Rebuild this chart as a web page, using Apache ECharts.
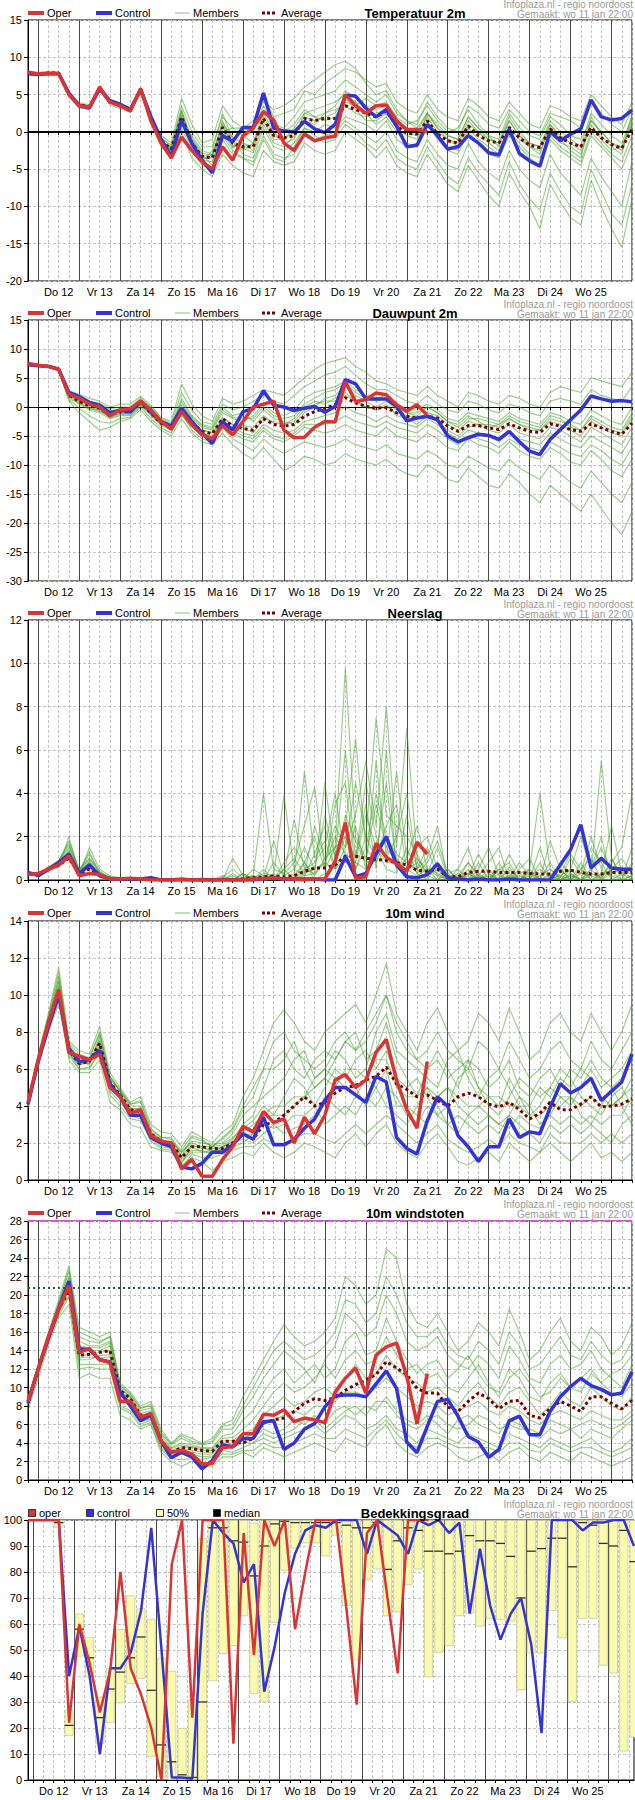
<!DOCTYPE html>
<html><head><meta charset="utf-8">
<script src="https://cdn.jsdelivr.net/npm/echarts@6/dist/echarts.min.js"></script>
<style>html,body{margin:0;padding:0;background:#fff}#c{width:635px;height:1800px}</style>
</head><body><div id="c"></div>
<script>
// ---------------- DATA ----------------
const dayLabels = ["Do 12","Vr 13","Za 14","Zo 15","Ma 16","Di 17","Wo 18","Do 19","Vr 20","Za 21","Zo 22","Ma 23","Di 24","Wo 25"];
const titles = ["Temperatuur 2m","Dauwpunt 2m","Neerslag","10m wind","10m windstoten","Bedekkingsgraad"];
const legendNames = ["Oper","Control","Members","Average"];
const cloudLegendNames = ["oper","control","50%","median"];
const headerLine1 = "Infoplaza.nl - regio noordoost";
const headerLine2 = "Gemaakt: wo 11 jan 22:00";
const gustLines = [28, 20.8];

// Temperatuur 2m
const t2mOper = [8.0,7.8,7.8,7.8,5.0,3.5,3.3,6.0,4.0,3.5,2.8,5.8,1.5,-1.5,-3.5,-0.7,-2.5,-4.0,-5.0,-2.0,-3.8,-0.5,0.5,2.7,1.6,-1.5,-2.5,-0.3,-1.2,-0.8,-0.6,5.0,3.5,2.5,3.5,3.6,1.5,0.3,0.3,0.0];
const t2mControl = [7.8,7.7,7.8,7.8,5.2,3.5,3.2,5.8,4.2,3.7,3.0,5.7,2.0,-1.0,-3.3,1.5,-1.5,-3.8,-5.5,-0.5,-1.3,0.6,0.6,5.2,0.5,0.1,0.0,1.4,0.4,-0.1,1.0,4.9,4.8,3.2,2.0,3.0,0.8,-2.0,-1.8,1.0,-0.5,-2.3,-2.0,-0.5,-1.5,-2.8,-3.1,0.4,-2.9,-3.9,-4.6,0.0,-1.2,-0.3,0.4,4.3,2.0,1.6,1.8,2.9];
const t2mAverage = [7.9,7.8,7.9,7.9,5.0,3.6,3.4,5.8,4.0,3.5,3.0,5.6,2.0,-1.2,-2.3,2.0,-1.5,-3.3,-3.5,0.6,-1.5,-2.0,-2.0,1.8,-0.5,-0.8,-0.5,1.8,1.5,1.8,1.8,3.5,3.0,2.5,2.0,2.8,0.8,-0.2,-0.3,1.5,-0.3,-1.2,-1.5,0.8,-0.5,-1.2,-1.5,0.6,-0.8,-1.8,-2.1,0.4,-0.8,-1.5,-2.0,0.6,-0.8,-1.7,-2.2,0.3];
const t2mMembers = [
[8.0,7.9,8.1,8.0,5.3,3.8,3.5,6.0,4.3,3.8,3.2,6.0,2.5, -0.5,-1.5,4.5,1.0,-1.5,-1.0,3.5,1.5,0.5,0.0,5.0,2.0, 2.5,3.0,5.5,5.0,6.5,7.5,8.5,8.0,7.0,6.0,6.5,4.0, 3.0,2.5,5.0,3.0,2.0,1.5,4.5,3.5,2.0,1.5,4.0,2.5, 1.0,0.5,3.5,3.0,2.0,1.5,5.0,3.5,2.0,1.0,4.0],
[7.8,7.7,7.7,7.7,4.7,3.2,3.0,5.5,3.6,3.1,2.6,5.2,1.5, -2.0,-3.5,0.0,-3.5,-5.0,-6.0,-3.0,-4.5,-5.5,-6.0,-2.5,-4.0, -4.5,-4.0,-1.5,-2.5,-3.0,-2.5,0.0,-1.0,-2.0,-3.5,-2.0,-4.5, -5.5,-6.0,-3.0,-5.0,-7.0,-8.0,-4.5,-6.5,-8.5,-10.0,-5.5,-8.0, -10.0,-13.0,-7.0,-9.5,-11.5,-12.5,-6.5,-10.0,-13.0,-15.5,-9.0],
[7.9,7.8,7.8,7.9,5.1,3.7,3.3,5.9,4.1,3.4,2.9,5.5,2.2, -1.0,-2.8,2.5,-1.0,-3.0,-4.5,1.0,-2.0,-1.5,-2.5,2.5,0.0, -1.5,-1.0,2.5,3.0,3.5,4.0,5.0,4.0,2.5,1.0,2.0,0.0, -1.5,-2.0,1.0,-1.0,-2.5,-3.0,0.0,-1.5,-3.0,-3.5,-0.5,-2.0, -3.5,-4.5,-1.0,-2.5,-3.5,-4.5,-0.5,-2.0,-3.5,-5.0,-1.5],
[8.0,7.8,8.0,7.9,4.9,3.5,3.5,5.7,3.9,3.6,3.1,5.7,1.8, -1.8,-2.0,3.0,-2.0,-4.0,-2.5,2.5,-1.0,-3.0,-3.5,0.5,-2.0, -2.5,-1.5,0.5,0.0,1.0,0.5,2.0,1.5,1.0,0.0,1.5,-1.0, -2.0,-1.5,2.5,0.5,-0.5,-1.0,2.0,0.5,-0.5,-1.0,2.5,0.5, -0.5,-1.0,2.0,1.0,-0.5,-1.0,1.5,0.0,-1.5,-2.0,1.0],
[7.8,7.9,7.9,8.0,5.0,3.6,3.2,6.1,4.0,3.3,2.8,5.4,2.4, -0.8,-1.8,1.0,-0.5,-2.5,-3.0,0.0,0.5,-0.5,-1.5,3.0,0.5, 0.0,1.0,3.0,2.0,1.5,2.0,4.0,3.5,4.5,3.5,4.0,2.0, 1.0,1.5,3.5,1.5,0.0,0.5,3.0,1.0,-0.5,-2.0,1.5,-0.5, -2.0,-3.0,1.0,-1.0,-2.5,-3.5,2.0,-0.5,-2.0,-3.0,2.5],
[7.9,7.8,7.9,7.8,5.2,3.9,3.6,5.8,4.2,3.5,3.0,5.9,1.6, -1.5,-3.0,0.5,-2.5,-4.5,-5.0,-1.0,-3.0,-3.5,-4.0,-0.5,-3.0, -3.5,-3.0,0.0,-1.0,-0.5,0.0,1.5,0.5,-0.5,-1.5,0.0,-2.5, -3.5,-4.0,-1.0,-3.0,-4.5,-5.0,-1.5,-4.0,-5.5,-6.5,-2.5,-5.0, -6.5,-7.5,-3.0,-5.5,-7.0,-8.5,-3.5,-6.0,-8.0,-10.0,-4.0],
[7.9,7.9,8.0,7.9,4.8,3.4,3.4,5.6,3.8,3.7,3.2,5.3,2.1, -1.2,-2.5,2.0,-1.5,-3.5,-3.5,1.5,-1.5,-2.5,-1.5,1.5,-1.0, -1.0,0.0,1.5,1.0,2.5,3.0,3.5,2.5,2.0,2.5,3.0,1.0, 0.0,-0.5,2.0,0.0,-1.0,-2.0,1.0,0.0,-1.5,-2.5,0.5,-1.0, -2.0,-2.5,0.5,-1.5,-2.0,-3.0,1.0,-1.0,-2.5,-2.0,1.5],
[7.9,7.8,7.9,7.9,5.1,3.7,3.4,5.9,4.1,3.6,3.1,5.8,2.3, -0.8,-2.0,3.5,0.0,-2.0,-2.0,2.0,0.5,0.5,1.5,4.0,3.0, 3.5,4.5,6.0,7.0,8.0,9.0,9.5,8.5,6.5,5.0,5.5,3.0, 1.5,1.0,4.0,2.0,0.5,0.0,3.5,2.5,1.0,0.5,3.0,1.5, 0.0,-0.5,2.5,2.0,1.5,0.5,4.0,2.5,1.0,0.0,3.0],
[7.8,7.8,7.8,7.8,4.9,3.5,3.3,5.7,3.9,3.4,2.9,5.5,1.7, -1.6,-3.0,1.2,-2.2,-4.2,-4.8,-0.5,-2.5,-3.5,-4.5,-1.0,-3.5, -4.0,-2.0,0.5,-0.5,-1.5,-1.0,1.0,0.0,-1.5,-2.5,-1.0,-3.5, -4.5,-5.0,-2.0,-4.0,-6.0,-7.0,-3.5,-5.5,-7.0,-8.5,-4.0,-7.0, -9.0,-10.5,-5.5,-8.0,-10.0,-11.0,-5.0,-8.0,-11.0,-12.5,-7.0],
[8.0,7.9,7.9,7.8,5.0,3.6,3.5,5.8,4.0,3.5,3.0,5.6,2.0, -1.3,-2.2,2.2,-1.2,-3.2,-3.0,0.8,-1.8,-2.2,-2.8,1.0,-1.5, -2.0,-0.5,2.0,1.5,2.0,2.5,4.5,3.0,1.5,1.5,2.5,0.5, -0.5,-1.0,1.5,-0.5,-2.0,-2.5,0.5,-1.0,-2.0,-3.0,0.0,-1.5, -3.0,-3.5,-0.5,-2.0,-3.0,-4.0,0.0,-1.5,-3.0,-4.0,-0.5],
[7.9,7.8,7.8,7.9,5.0,3.5,3.3,5.9,4.0,3.5,2.9,5.7,1.9, -1.0,-2.6,1.8,-1.8,-3.8,-4.0,0.2,-2.2,-1.0,0.5,3.5,1.0, 0.5,2.0,4.0,4.5,5.0,5.5,7.0,6.0,5.0,4.0,5.0,2.5, 1.5,0.5,2.5,0.5,-1.0,-1.5,1.5,0.0,-1.0,-1.5,2.0,0.0, -1.5,-2.0,1.5,0.0,-1.0,-2.0,2.5,1.0,-0.5,-1.5,2.0],
[7.9,7.8,7.9,8.0,5.1,3.6,3.4,5.8,4.1,3.5,3.0,5.6,2.1, -1.1,-2.4,2.8,-0.8,-2.8,-3.2,1.2,-0.8,-1.5,-2.0,2.0,-0.5, -1.0,0.5,2.5,2.0,2.5,3.5,5.5,4.5,3.5,3.0,3.5,1.5, 0.5,0.0,2.5,1.0,-0.5,-1.0,2.0,0.5,-1.0,-1.5,1.5,-0.5, -1.5,-2.0,1.0,-0.5,-1.5,-2.5,1.5,0.0,-1.5,-2.5,1.0]
];

// Dauwpunt 2m
const tdOper = [7.5,7.2,7.0,6.5,2.2,1.5,0.5,0.0,-1.5,-0.5,-0.3,1.0,-0.5,-2.5,-3.8,-0.8,-3.0,-4.8,-5.5,-3.2,-4.8,-2.5,0.0,0.5,1.0,-4.0,-5.3,-5.2,-3.5,-2.5,-2.6,4.4,0.9,1.3,2.4,2.1,0.4,-0.7,0.4,-1.4];
const tdControl = [7.3,7.1,7.0,6.5,2.5,1.8,0.8,0.3,-1.0,-0.6,-0.8,1.0,-0.8,-2.5,-3.3,-0.2,-2.5,-4.5,-6.3,-2.5,-4.0,-0.8,-0.3,2.8,0.3,0.0,-0.6,-0.2,0.1,-0.9,0.1,4.7,4.0,1.4,1.4,1.4,0.1,-2.4,-1.9,-1.6,-2.2,-5.0,-6.0,-5.3,-4.7,-4.9,-5.6,-4.2,-6.0,-7.6,-8.2,-5.6,-3.9,-2.2,-0.5,1.9,1.4,1.0,1.1,0.9];
const tdAverage = [7.4,7.2,7.0,6.5,2.0,1.0,0.2,-0.2,-1.3,-0.8,-0.8,0.8,-1.0,-2.8,-3.3,-0.5,-2.7,-4.2,-4.6,-2.0,-3.3,-3.7,-4.0,-2.0,-3.0,-3.3,-3.0,-1.6,-0.8,-0.2,0.4,1.6,0.7,0.1,-0.2,-0.1,-1.0,-1.6,-1.9,-1.6,-1.9,-3.3,-4.2,-3.2,-3.2,-3.6,-3.9,-2.9,-3.6,-4.2,-4.4,-2.9,-3.3,-3.9,-4.2,-2.9,-3.6,-4.2,-4.7,-2.8];
const tdMembers = [
[7.5,7.3,7.2,6.7,2.8,2.2,1.5,1.0,0.0,0.5,0.5,1.8,0.3, -1.8,-2.5,4.0,0.5,-1.5,-2.5,1.5,0.5,1.0,2.0,3.0,2.5, 2.0,3.5,5.0,6.5,7.5,8.0,8.5,7.0,6.0,4.5,4.0,3.0, 2.5,2.0,3.5,2.0,1.0,0.0,2.5,2.0,1.0,0.5,2.0,1.5, 0.5,0.0,2.5,3.5,3.0,2.5,5.0,4.5,4.0,3.5,6.0],
[7.3,7.1,6.8,6.3,1.0,-1.0,-2.5,-4.0,-3.5,-2.5,-2.0,-0.5,-2.5, -4.0,-5.0,-2.0,-4.5,-6.0,-6.5,-4.5,-6.5,-8.0,-9.0,-7.0,-9.0, -11.0,-10.0,-8.5,-9.0,-10.0,-9.5,-8.0,-9.0,-9.5,-10.0,-9.0,-10.5, -11.5,-12.0,-10.0,-11.0,-12.5,-13.0,-10.5,-12.0,-13.5,-14.0,-11.5,-13.0, -15.0,-16.5,-13.5,-15.0,-16.5,-18.0,-15.0,-17.5,-20.0,-22.0,-18.0],
[7.4,7.2,7.0,6.5,2.3,1.5,0.5,0.3,-1.0,-0.3,-0.5,1.2,-0.5, -2.3,-3.0,0.5,-2.0,-3.5,-4.0,-1.0,-2.0,-2.5,-1.5,0.5,-1.0, -1.5,-0.5,1.5,2.5,3.0,3.5,4.5,3.0,2.0,1.5,2.0,0.5, -0.5,-0.5,0.5,-0.5,-2.0,-2.5,-1.0,-1.5,-2.0,-2.5,-1.0,-2.0, -2.5,-3.0,-1.0,-1.5,-2.5,-3.0,-0.5,-1.5,-2.5,-3.0,0.0],
[7.4,7.2,7.1,6.6,1.5,0.5,-0.5,-1.0,-2.0,-1.5,-1.5,0.3,-1.5, -3.2,-4.0,-1.5,-3.5,-5.0,-5.5,-3.0,-4.5,-5.5,-6.0,-4.0,-5.5, -6.0,-5.0,-3.5,-4.0,-4.5,-4.0,-3.0,-4.0,-4.5,-5.0,-3.5,-5.0, -5.5,-6.0,-4.5,-5.5,-7.0,-7.5,-5.5,-6.5,-7.0,-8.0,-6.0,-7.5, -8.5,-9.0,-7.0,-8.0,-9.5,-10.0,-7.5,-9.0,-11.0,-12.0,-9.0],
[7.5,7.2,7.0,6.4,2.5,1.2,0.0,-0.5,-1.8,-1.0,-1.2,0.5,-1.2, -3.0,-3.5,0.0,-2.5,-4.5,-5.0,-2.0,-3.0,-3.5,-4.5,-2.0,-2.5, -3.0,-2.0,0.0,1.0,0.5,1.5,2.5,1.0,0.0,-0.5,0.5,-1.5, -2.0,-3.0,-1.5,-2.5,-4.0,-5.0,-3.5,-3.0,-4.0,-4.5,-3.0,-4.5, -5.0,-5.5,-3.5,-4.0,-5.0,-6.0,-3.5,-4.5,-5.5,-6.5,-3.5],
[7.3,7.2,7.0,6.6,2.0,1.0,0.8,0.5,-0.5,-0.8,-0.5,1.0,-0.8, -2.6,-3.5,1.5,-1.5,-3.0,-3.5,0.0,-1.5,-1.0,-2.5,-0.5,-2.0, -2.5,-3.0,-1.0,0.0,1.5,2.0,3.5,2.0,1.0,0.0,1.0,-0.5, -1.0,-1.5,0.0,-1.0,-2.5,-3.0,-1.5,-2.5,-3.5,-3.0,-2.0,-3.0, -3.5,-4.0,-2.0,-2.5,-3.0,-4.0,-2.0,-3.0,-4.0,-4.5,-1.5],
[7.4,7.3,7.1,6.5,2.2,0.8,-0.2,-0.8,-1.5,-1.2,-1.0,0.6,-1.0, -2.8,-3.3,-0.5,-3.0,-4.0,-4.5,-2.5,-3.5,-4.5,-5.0,-3.0,-4.0, -4.5,-4.0,-2.5,-2.0,-1.5,-1.0,0.0,-1.0,-1.5,-2.5,-1.5,-2.5, -3.0,-3.5,-2.0,-3.0,-4.5,-5.5,-4.0,-4.5,-5.0,-6.0,-4.5,-5.5, -6.0,-6.5,-4.5,-5.5,-6.5,-7.0,-5.0,-6.0,-7.0,-8.0,-5.0],
[7.4,7.2,7.0,6.6,2.6,1.8,1.0,0.6,-0.3,0.0,0.0,1.5,0.0, -2.0,-2.8,2.5,-0.5,-2.5,-3.0,0.5,-0.5,0.0,1.0,2.0,1.0, 0.5,2.0,3.5,4.5,5.5,6.0,7.0,5.5,4.0,3.0,3.0,2.0, 1.0,0.5,2.0,0.5,-0.5,-1.0,1.0,0.5,-0.5,-1.0,0.5,0.0, -1.0,-1.5,1.0,1.5,1.0,0.5,3.0,2.0,1.5,1.0,3.5],
[7.3,7.1,6.9,6.4,1.3,-0.2,-1.5,-2.5,-2.8,-2.0,-1.8,0.0,-2.0, -3.6,-4.5,-1.0,-4.0,-5.5,-6.0,-3.5,-5.5,-6.5,-7.5,-5.5,-7.0, -8.0,-7.0,-6.0,-6.5,-7.0,-6.5,-5.5,-6.5,-7.0,-7.5,-6.5,-8.0, -8.5,-9.0,-7.5,-8.5,-10.0,-10.5,-8.5,-9.5,-10.5,-11.0,-9.0,-10.5, -11.5,-12.5,-10.0,-11.5,-13.0,-14.0,-11.0,-13.0,-15.0,-16.5,-13.0],
[7.4,7.2,7.0,6.5,2.1,1.2,0.3,-0.3,-1.2,-0.7,-0.6,0.9,-0.9, -2.7,-3.2,-0.3,-2.6,-4.0,-4.4,-1.8,-3.0,-3.2,-3.5,-1.5,-2.8, -3.0,-2.5,-0.5,0.5,1.0,1.0,2.0,1.0,0.0,-0.5,0.0,-1.0, -1.5,-2.0,-1.0,-1.5,-3.0,-4.0,-2.5,-3.0,-3.0,-3.5,-2.0,-3.0, -4.0,-4.0,-2.5,-3.0,-4.0,-5.0,-2.5,-3.5,-4.5,-5.0,-2.0],
[7.5,7.3,7.1,6.6,2.4,1.6,0.9,0.4,-0.8,-0.2,-0.3,1.3,-0.3, -2.2,-3.1,1.0,-1.8,-3.2,-3.8,-0.5,-1.8,-2.0,-2.0,0.0,-1.5, -2.0,-1.5,0.5,1.5,2.5,3.0,4.0,2.5,1.5,1.0,1.5,0.0, -1.0,-1.0,0.0,-1.0,-2.5,-3.5,-2.0,-2.0,-2.5,-3.0,-1.5,-2.5, -3.0,-3.5,-1.5,-2.0,-3.5,-4.0,-1.5,-2.5,-3.5,-4.0,-1.0],
[7.3,7.2,7.0,6.4,1.8,0.6,-0.3,-0.5,-1.8,-1.3,-1.3,0.4,-1.3, -3.0,-3.6,-1.0,-3.2,-4.6,-5.2,-2.8,-4.0,-5.0,-5.5,-3.5,-5.0, -5.5,-4.5,-3.0,-3.0,-3.0,-2.5,-1.5,-2.5,-3.0,-3.5,-2.5,-3.5, -4.0,-4.5,-3.0,-4.0,-5.5,-6.5,-5.0,-5.5,-6.0,-7.0,-5.5,-6.5, -7.0,-7.5,-6.0,-7.0,-8.0,-8.5,-6.5,-7.5,-9.0,-10.0,-7.0]
];

// Neerslag
const prOper = [0.25,0.3,0.5,0.7,1.1,0.2,0.3,0.25,0.05,0.05,0.08,0.05,0,0,0,0.05,0,0,0,0,0,0,0.05,0.05,0.1,0.05,0.05,0.0,0.05,0.05,0.85,2.65,0.08,0.15,1.7,1.05,0.75,0.4,1.75,1.2];
const prControl = [0.35,0.2,0.5,0.8,1.2,0.3,0.7,0.2,0.05,0.05,0.05,0.05,0.1,0,0,0,0,0,0,0,0,0,0,0.05,0.1,0.05,0.05,0.05,0.05,0,0,1.08,0.15,0.3,1.2,2.0,0.7,0.15,0.1,0.25,0.75,0.1,0.05,0,0.05,0,0,0.05,0,0,0,0,0.7,1.4,2.55,0.55,1.0,0.55,0.5,0.5];
const prAverage = [0.3,0.25,0.5,0.7,1.0,0.3,0.5,0.2,0.08,0.05,0.05,0.03,0.02,0.02,0.02,0.02,0.02,0.02,0.02,0.02,0.02,0.05,0.1,0.15,0.18,0.15,0.2,0.4,0.55,0.55,0.7,1.1,1.1,1.0,0.95,0.9,0.8,0.7,0.45,0.4,0.5,0.15,0.15,0.35,0.4,0.4,0.35,0.35,0.35,0.3,0.28,0.28,0.4,0.45,0.35,0.28,0.28,0.35,0.35,0.35];
const prMembers = [
[0.3,0.3,0.6,0.9,1.6,0.4,1.2,0.3,0.1,0.1,0.0,0.0,0.0, 0.0,0.0,0.0,0.0,0.1,0.0,0.1,0.5,0.1,0.2,4.0,0.5, 0.3,0.8,2.5,4.3,0.5,1.5,9.8,2.0,1.0,3.5,1.5,0.8, 0.5,1.0,0.3,1.5,0.1,0.0,0.8,0.2,0.0,0.1,1.2,0.3, 0.0,0.2,0.5,0.1,1.0,0.3,0.2,5.5,1.0,0.2,0.5],
[0.4,0.2,0.4,0.6,2.0,0.3,0.8,0.2,0.05,0.0,0.05,0.0,0.0, 0.0,0.0,0.0,0.0,0.0,0.0,0.0,1.0,0.2,0.1,0.3,0.2, 3.9,0.5,0.2,1.2,2.5,0.5,1.5,3.0,5.5,2.5,8.0,1.5, 7.0,1.0,0.5,0.2,0.0,0.3,0.0,0.5,1.5,0.2,0.0,0.0, 0.5,4.0,0.5,0.0,0.2,0.0,0.3,0.1,0.8,1.5,4.0],
[0.2,0.3,0.5,0.8,1.3,0.2,1.5,0.5,0.2,0.1,0.05,0.05,0.0, 0.0,0.0,0.0,0.05,0.0,0.0,0.2,0.0,0.3,0.0,0.1,1.8, 0.2,2.8,0.5,0.3,4.5,1.0,2.5,6.5,1.5,4.0,2.0,1.2, 0.8,0.5,1.5,0.2,0.5,0.0,0.2,1.2,0.3,0.0,0.1,0.8, 0.2,0.0,1.8,0.5,0.0,0.3,2.0,0.5,0.2,0.0,0.8],
[0.3,0.2,0.6,0.6,1.0,0.3,0.5,0.1,0.0,0.0,0.0,0.0,0.0, 0.0,0.0,0.0,0.0,0.0,0.0,0.0,0.0,0.0,0.1,0.0,0.0, 0.1,0.0,0.3,0.5,0.8,2.0,1.2,0.8,3.0,1.5,0.5,0.3, 1.5,0.3,0.0,0.8,0.2,0.0,0.5,0.0,0.0,0.3,0.0,0.2, 0.0,0.0,0.3,0.2,0.5,0.0,0.0,0.2,0.4,0.0,0.2],
[0.35,0.3,0.45,0.75,1.2,0.25,0.7,0.3,0.1,0.05,0.05,0.0,0.05, 0.0,0.0,0.0,0.0,0.0,0.05,0.0,0.3,0.0,0.0,0.5,0.0, 0.8,1.5,0.8,2.0,0.5,3.5,4.5,0.5,2.0,7.5,3.0,2.5, 2.0,1.2,0.2,0.0,0.3,0.5,0.0,0.2,0.8,1.5,0.0,0.0, 0.4,0.0,0.0,0.8,0.3,0.0,0.5,1.5,0.3,0.6,0.2],
[0.25,0.25,0.55,0.9,1.8,0.5,1.0,0.4,0.1,0.05,0.0,0.0,0.0, 0.0,0.0,0.0,0.0,0.0,0.0,0.0,0.2,0.0,0.0,0.0,0.3, 0.0,0.3,5.0,1.0,1.8,0.5,3.0,1.8,0.8,1.0,4.5,0.5, 3.0,0.5,1.0,2.5,0.0,0.0,0.3,0.0,0.5,0.0,0.6,0.0, 0.0,0.8,0.0,0.3,1.2,0.5,0.0,0.3,2.5,0.3,0.0],
[0.3,0.35,0.5,0.7,1.4,0.35,0.9,0.2,0.05,0.0,0.0,0.05,0.0, 0.0,0.0,0.0,0.0,0.0,0.0,0.1,0.0,0.1,0.0,0.2,0.0, 0.5,0.0,0.8,0.2,1.0,1.5,2.0,1.0,4.5,2.0,1.0,5.0, 1.0,2.5,0.5,0.0,0.0,0.2,0.8,0.2,0.0,0.5,0.3,0.0, 0.2,0.5,0.2,0.0,0.0,0.5,1.0,0.0,0.0,0.3,0.6],
[0.3,0.25,0.5,0.65,1.1,0.3,0.6,0.25,0.1,0.05,0.05,0.0,0.0, 0.0,0.0,0.0,0.0,0.0,0.0,0.0,0.1,0.0,0.5,0.2,0.0, 0.5,1.0,0.3,2.5,1.0,2.5,1.5,4.5,2.0,1.0,2.5,3.5, 0.5,0.8,0.2,0.5,0.0,0.5,1.5,0.0,0.2,0.0,0.0,0.5, 1.0,0.0,0.2,0.0,0.5,2.0,0.5,0.0,0.5,1.0,0.3],
[0.35,0.3,0.55,0.8,1.5,0.4,1.0,0.3,0.1,0.05,0.05,0.05,0.0, 0.0,0.0,0.0,0.0,0.0,0.0,0.0,0.0,0.3,0.0,0.0,0.8, 0.2,0.5,1.5,0.5,3.0,1.0,6.0,1.0,3.5,0.5,6.0,0.5, 1.0,0.3,0.8,1.8,0.3,0.0,0.0,0.8,0.0,0.0,0.5,0.0, 0.0,1.5,0.0,0.5,0.0,0.0,1.5,0.8,0.0,0.0,0.2],
[0.3,0.3,0.45,0.7,1.3,0.3,0.8,0.2,0.05,0.0,0.0,0.0,0.0, 0.0,0.0,0.0,0.0,0.0,0.0,0.0,0.0,0.0,0.0,0.0,0.0, 0.0,0.2,0.8,0.0,0.3,0.8,2.0,0.5,1.5,0.8,2.0,1.0, 0.3,1.5,2.0,0.5,0.0,0.0,0.3,0.0,0.0,0.5,0.8,0.0, 0.0,0.0,0.8,0.0,0.3,0.0,0.5,2.0,0.0,0.0,0.0],
[0.25,0.3,0.6,0.85,1.7,0.45,1.3,0.35,0.15,0.05,0.0,0.0,0.0, 0.0,0.0,0.0,0.0,0.0,0.0,0.1,0.0,0.0,0.2,0.0,0.0, 0.0,0.0,0.5,0.8,1.5,4.0,0.8,2.5,0.5,5.5,1.0,2.0, 4.0,0.5,0.0,0.0,0.5,0.0,0.0,0.3,0.0,0.8,0.0,0.3, 0.5,0.0,0.0,0.2,0.0,0.8,0.0,0.0,1.0,0.0,1.5],
[0.3,0.25,0.5,0.75,1.2,0.3,0.6,0.2,0.05,0.0,0.0,0.0,0.0, 0.0,0.0,0.0,0.0,0.0,0.0,0.0,0.0,0.0,0.0,0.0,0.2, 0.0,0.0,0.2,0.3,0.8,0.5,1.0,0.8,0.5,1.5,0.8,0.8, 0.5,0.2,0.5,0.3,0.0,0.2,0.0,0.0,0.3,0.0,0.2,0.0, 0.3,0.0,0.0,0.0,0.2,0.0,0.2,0.0,0.3,0.5,0.0]
];

// 10m wind
const wOper = [4.2,6.5,8.5,10.3,6.9,6.7,6.5,6.8,5.0,4.5,3.6,3.8,2.4,2.1,2.0,0.6,1.1,0.2,0.2,1.1,1.8,2.9,2.6,3.7,3.1,3.3,2.0,3.4,2.5,3.5,5.4,5.7,5.0,5.4,6.9,7.6,5.4,3.8,2.8,6.4];
const wControl = [4.1,6.4,8.3,10.0,7.1,6.4,6.5,7.0,5.2,4.5,3.5,3.5,2.3,2.0,1.8,0.7,0.6,0.9,1.5,1.5,1.9,2.5,2.2,3.4,1.9,1.9,2.2,2.8,3.3,4.3,5.0,5.0,4.6,4.2,5.6,5.3,2.3,1.7,1.4,3.2,4.5,4.0,2.4,1.8,1.0,1.8,1.8,3.3,2.3,2.6,2.5,3.9,5.2,4.7,5.0,5.5,4.3,4.8,5.3,6.8];
const wAverage = [4.1,6.5,8.5,10.2,7.0,6.3,6.4,7.4,5.3,4.6,3.8,3.7,2.5,2.1,2.0,1.2,1.8,1.8,1.7,1.7,2.0,2.5,2.2,3.0,3.1,3.5,4.0,4.5,4.0,4.2,4.7,5.0,5.1,5.4,5.6,6.1,5.2,4.9,4.5,4.6,4.3,4.0,4.5,4.7,4.5,4.1,3.95,4.2,3.8,3.3,3.6,4.2,3.8,3.8,4.1,4.5,3.95,4.0,4.1,4.4];
const wMembers = [
[4.3,6.8,9.0,11.5,7.5,7.0,6.8,8.3,5.8,5.0,4.2,4.5,3.0, 2.6,2.5,1.8,2.6,2.3,2.0,2.6,3.0,4.5,5.5,7.0,8.5, 9.2,8.5,7.5,7.0,8.0,8.5,9.0,9.5,8.5,10.0,11.7,9.0, 8.0,7.0,8.5,9.3,8.0,7.0,7.5,9.0,8.5,7.5,9.3,8.0, 6.5,7.0,8.5,9.0,8.0,7.5,9.0,8.0,7.0,8.0,9.5],
[3.9,6.2,8.0,9.5,6.5,5.8,5.8,6.5,4.2,3.8,3.0,2.8,1.8, 1.6,1.5,0.8,1.2,1.0,0.5,1.0,1.2,1.5,1.3,2.0,1.5, 1.2,1.5,2.0,1.8,1.5,1.2,2.0,2.5,1.8,2.5,3.0,2.0, 1.5,1.2,2.0,2.5,1.8,1.0,0.8,1.2,1.5,1.0,2.0,1.5, 1.0,1.5,2.0,1.5,1.0,1.5,2.0,1.2,1.5,1.0,1.5],
[4.1,6.6,8.8,10.8,7.2,6.5,6.2,7.8,5.5,4.8,4.0,4.0,2.6, 2.2,2.0,1.5,2.0,1.8,1.5,1.8,2.2,3.0,3.5,5.0,6.5, 7.0,6.0,5.5,6.5,7.0,6.5,7.5,8.0,6.5,7.0,8.5,6.5, 5.5,4.5,6.0,6.5,5.5,6.0,6.5,5.0,4.5,4.0,5.5,4.5, 3.5,4.0,5.0,4.5,4.0,5.0,6.0,5.0,5.5,6.0,7.0],
[4.0,6.4,8.4,10.0,6.8,6.2,6.5,7.2,5.0,4.4,3.6,3.5,2.3, 1.9,1.8,1.0,1.5,1.5,1.6,1.6,1.8,2.0,2.5,3.0,2.8, 3.0,3.5,3.5,4.0,3.0,3.5,4.0,3.5,4.5,4.0,5.0,4.5, 3.5,3.0,4.0,3.5,3.0,3.5,3.0,2.5,3.0,2.5,3.5,3.0, 2.5,2.0,3.0,2.5,3.0,2.5,3.0,2.5,2.0,3.0,3.5],
[4.2,6.5,8.6,10.5,7.0,6.3,6.3,7.5,5.5,4.8,3.9,3.8,2.5, 2.1,2.0,1.2,1.8,1.8,1.8,1.9,2.3,2.8,3.2,4.0,3.5, 4.5,5.5,5.0,4.0,5.0,6.0,5.5,6.5,7.0,6.0,7.0,5.5, 5.0,5.5,4.5,3.5,4.0,5.5,6.0,5.0,4.0,3.5,4.5,5.5, 5.0,4.5,5.0,6.0,5.5,4.5,4.0,3.5,4.5,5.0,4.0],
[4.0,6.3,8.3,9.8,6.9,6.0,6.0,7.0,4.8,4.2,3.5,3.3,2.2, 1.8,1.7,0.9,1.8,1.5,1.5,1.8,2.0,2.2,2.0,2.5,3.0, 2.5,2.8,3.0,3.5,4.5,4.0,3.5,4.5,5.5,5.0,4.0,3.5, 3.0,4.0,5.0,4.0,3.0,2.5,3.5,4.0,3.5,3.0,2.8,3.5, 3.0,2.8,3.5,3.0,3.5,3.0,3.5,3.0,3.5,3.5,4.5],
[4.2,6.6,8.7,11.0,7.3,6.6,6.4,7.6,5.2,4.6,3.8,3.9,2.4, 2.0,2.1,1.5,2.1,2.0,1.9,2.0,2.5,3.5,4.0,4.5,5.0, 5.5,6.5,7.0,5.5,6.0,7.0,6.5,5.5,6.0,8.0,9.0,7.0, 6.5,6.0,5.5,5.0,6.5,7.0,5.5,4.5,5.5,6.0,5.0,4.0, 4.0,5.0,4.5,5.5,5.0,6.0,5.5,4.5,4.0,4.5,5.5],
[4.1,6.5,8.6,10.7,7.1,6.4,6.6,7.9,5.6,4.9,4.1,4.2,2.7, 2.3,2.3,1.3,2.3,2.1,1.8,2.2,2.7,3.8,4.5,6.0,7.5, 8.0,7.0,6.5,6.0,6.5,7.5,8.0,7.0,7.5,8.5,10.0,8.0, 7.0,6.5,7.0,8.0,7.0,6.5,6.0,7.5,7.0,6.0,7.5,6.5, 5.5,6.0,7.0,7.5,6.5,6.0,7.5,6.5,6.0,7.0,8.0],
[4.0,6.3,8.2,9.7,6.7,6.0,6.1,6.8,4.6,4.0,3.3,3.2,2.1, 1.7,1.6,0.6,1.4,1.2,1.2,1.4,1.6,1.8,1.8,2.2,2.0, 2.0,2.2,2.5,2.5,2.2,2.0,2.5,3.0,2.5,3.0,3.5,3.0, 2.5,2.0,2.5,3.0,2.2,1.8,1.5,1.8,2.2,1.8,2.5,2.0, 1.8,1.5,2.5,2.0,2.0,2.0,2.5,2.0,2.5,2.0,2.5],
[4.2,6.6,8.5,10.4,7.0,6.4,6.3,7.3,5.3,4.5,3.7,3.6,2.5, 2.0,1.9,1.3,1.9,1.7,1.7,1.8,2.1,2.6,3.0,3.5,4.0, 4.0,4.5,4.5,5.0,5.5,5.0,6.0,6.0,5.5,6.5,6.5,5.0, 4.5,4.5,5.0,4.5,5.0,4.5,4.0,4.0,4.5,4.5,4.0,4.0, 3.5,3.5,4.0,4.0,4.5,4.0,4.5,4.0,4.0,4.5,5.0],
[4.1,6.5,8.4,10.1,6.9,6.2,6.4,7.1,5.1,4.5,3.8,3.6,2.4, 2.0,1.9,1.1,1.6,1.6,1.4,1.7,1.9,2.4,2.5,3.5,3.5, 3.5,4.0,4.5,5.5,6.0,5.5,5.0,5.0,4.0,5.0,6.0,4.0, 4.0,3.5,3.0,4.5,5.0,4.0,3.5,3.0,3.5,3.0,3.5,4.5, 4.0,3.0,3.5,4.5,4.5,3.5,3.0,4.0,5.0,4.0,3.0],
[4.2,6.7,8.9,11.2,7.4,6.8,6.6,8.0,5.6,4.8,4.1,4.3,2.8, 2.3,2.2,1.6,2.4,2.2,1.8,2.3,2.8,4.0,5.0,6.0,6.0, 6.5,7.5,6.0,5.0,5.5,6.5,7.5,7.0,8.0,9.0,10.0,8.5, 7.5,6.5,6.0,7.0,6.0,5.0,6.5,6.0,5.0,5.5,6.5,5.0, 4.5,5.5,6.0,5.0,6.0,5.5,6.5,5.5,5.0,5.5,6.5]
];

// 10m windstoten
const gOper = [8.5,12.0,15.5,18.5,21.0,13.8,14.2,13.0,12.7,8.5,8.5,6.8,7.2,4.2,3.0,3.2,2.8,1.7,1.8,3.5,3.6,5.0,5.0,7.1,7.0,7.6,6.3,6.7,6.5,6.2,9.5,11.0,12.1,9.4,13.5,14.4,14.8,11.2,6.1,11.5];
const gControl = [8.3,12.0,15.3,18.5,21.5,14.2,14.1,13.0,12.8,9.5,8.0,6.4,7.0,4.2,2.4,3.0,2.5,1.2,2.1,3.8,3.6,4.5,4.5,6.3,6.4,3.3,4.0,5.5,6.1,7.9,9.1,9.2,9.2,9.0,10.4,11.8,9.9,4.1,2.95,5.8,8.5,8.7,6.9,4.7,4.1,2.45,3.3,6.4,6.9,4.9,4.9,7.4,9.0,10.1,11.0,10.2,9.8,9.2,9.4,11.7];
const gAverage = [8.5,12.0,15.4,18.5,20.5,13.5,13.6,13.8,14.0,9.7,8.8,7.0,7.0,4.3,3.0,3.5,3.4,3.2,3.1,4.2,4.2,4.0,4.5,6.2,6.5,6.7,7.4,8.3,8.8,8.6,8.9,9.7,10.3,10.8,11.4,12.8,12.1,11.4,9.9,9.4,9.4,7.9,7.4,8.5,9.4,8.8,7.7,8.5,8.6,7.0,6.7,7.7,8.5,8.0,7.4,9.0,9.0,8.3,7.7,8.6];
const gMembers = [
[8.8,12.5,16.0,19.5,23.2,16.5,16.0,15.5,16.0,10.5,9.5,8.0,8.5, 5.5,4.0,5.0,4.5,4.0,4.5,6.0,6.5,9.0,11.0,13.0,15.0, 16.8,15.5,14.5,15.0,16.0,17.5,22.0,21.0,19.0,20.0,25.0,24.0, 19.0,17.0,16.5,18.0,16.0,14.0,15.0,17.0,16.0,14.5,18.5,16.0, 13.0,14.0,16.0,17.5,15.0,14.0,16.5,15.5,13.5,14.5,17.0],
[7.5,11.0,14.5,17.5,19.0,11.0,11.5,11.0,11.0,7.0,6.5,5.5,6.0, 3.0,2.0,1.5,2.0,1.5,1.5,2.5,2.5,3.0,2.5,3.5,3.0, 2.5,3.0,3.5,4.0,3.5,3.0,4.5,4.0,3.5,5.0,6.0,4.0, 3.0,2.5,3.5,4.0,3.5,2.5,2.0,2.5,3.0,2.0,3.0,3.5, 2.5,2.0,3.0,2.5,2.0,3.0,2.5,2.0,1.5,2.0,2.5],
[8.6,12.2,15.8,19.0,22.0,15.0,14.5,14.5,15.0,10.0,9.0,7.5,7.8, 4.8,3.5,4.0,3.8,3.5,3.5,4.8,5.0,6.5,7.5,9.5,11.0, 12.0,10.5,11.5,12.5,11.0,12.0,15.0,16.0,13.5,14.0,17.5,15.0, 13.0,11.5,12.5,13.0,11.0,12.0,13.5,11.5,10.0,9.5,12.0,11.0, 9.0,8.5,10.5,11.5,10.0,11.0,12.0,10.5,11.5,12.0,13.5],
[8.4,11.8,15.2,18.0,20.5,13.0,13.0,13.5,13.5,9.0,8.5,6.5,6.8, 4.0,2.8,3.2,3.0,2.8,2.8,3.8,3.8,4.0,4.5,5.5,5.0, 5.5,6.5,6.0,7.0,6.0,7.5,8.0,7.0,8.0,7.5,9.0,7.5, 6.5,6.0,7.0,6.0,5.0,6.5,7.0,6.0,5.5,5.0,6.5,6.0, 5.0,4.5,5.5,5.0,5.5,4.5,5.5,5.0,4.5,5.5,6.5],
[8.5,12.0,15.5,18.8,21.5,14.0,14.0,14.0,14.5,9.5,8.8,7.0,7.2, 4.3,3.2,3.6,3.5,3.2,3.2,4.2,4.3,5.0,5.5,7.0,8.0, 9.0,8.0,8.5,9.5,10.0,9.0,11.0,12.5,11.0,11.5,13.5,12.0, 11.0,10.5,9.5,10.0,9.0,8.0,9.5,10.5,9.0,8.0,9.5,10.0, 8.5,7.0,8.0,9.5,8.5,8.0,10.0,9.0,8.0,7.5,9.0],
[8.3,11.5,15.0,18.2,20.0,12.5,12.5,12.5,12.5,8.0,7.5,6.0,6.5, 3.5,2.5,2.8,2.5,2.2,2.5,3.2,3.0,3.5,4.0,4.5,4.0, 4.5,5.0,5.5,6.0,5.0,6.0,7.0,6.5,5.5,6.0,7.0,5.5, 5.0,4.0,5.5,5.0,4.5,4.0,5.0,4.5,4.0,3.5,5.0,4.5, 4.0,3.5,4.5,4.0,3.5,4.0,4.5,3.5,3.0,3.5,4.5],
[8.7,12.3,15.6,19.2,22.5,15.5,15.0,14.8,15.5,10.2,9.2,7.8,8.0, 5.0,3.8,4.5,4.0,3.8,4.0,5.5,5.5,7.5,9.0,11.0,12.5, 14.0,13.0,12.0,10.5,13.0,14.5,18.0,17.0,15.5,16.5,20.0,18.0, 15.0,14.0,14.5,15.5,13.5,12.5,12.0,13.5,12.5,11.0,14.5,13.0, 11.0,10.5,12.5,13.5,12.0,12.5,14.0,12.0,11.0,10.0,12.5],
[8.6,12.1,15.7,19.0,22.8,16.0,15.5,15.0,15.5,10.3,9.3,7.7,8.2, 5.2,3.9,4.8,4.2,3.9,4.2,5.8,6.0,8.0,10.0,12.0,14.0, 15.0,14.0,13.0,13.5,14.5,16.0,19.5,19.0,17.0,18.0,22.0,20.0, 17.0,15.5,15.5,16.5,14.5,13.5,13.0,15.0,14.0,12.5,16.0,14.5, 12.0,12.5,14.0,15.5,13.5,13.0,15.0,13.5,12.5,13.0,15.0],
[8.2,11.7,15.0,17.8,19.8,12.0,12.2,12.0,12.0,7.8,7.2,5.8,6.2, 3.3,2.3,2.2,2.3,1.8,2.0,2.8,2.8,3.2,3.2,4.0,3.5, 3.5,4.0,4.5,5.0,4.5,4.5,5.5,5.0,4.5,5.5,6.5,5.0, 4.0,3.5,4.5,4.5,4.0,3.5,3.5,3.5,3.5,3.0,4.0,4.0, 3.2,3.0,4.0,3.5,3.0,3.5,3.5,3.0,2.5,3.0,3.5],
[8.5,12.0,15.4,18.6,21.0,13.5,13.5,13.8,14.0,9.2,8.6,6.8,7.0, 4.2,3.0,3.4,3.2,3.0,3.0,4.0,4.0,4.5,5.0,6.0,6.5, 7.0,7.5,7.0,8.0,8.0,8.5,9.5,9.5,9.0,10.0,11.0,10.0, 9.0,8.0,8.5,8.0,7.0,7.5,8.0,8.5,7.5,7.0,8.0,7.5, 6.5,6.0,7.0,7.5,7.0,6.5,7.5,7.0,6.5,6.5,7.5],
[8.6,12.1,15.6,18.9,21.8,14.5,14.3,14.3,14.8,9.8,9.0,7.2,7.5, 4.5,3.4,3.8,3.6,3.4,3.4,4.5,4.6,5.5,6.5,8.0,9.5, 10.5,9.5,10.0,11.0,12.5,11.0,13.0,14.0,12.5,13.0,15.5,13.5, 12.0,12.5,11.0,11.5,10.0,9.5,11.0,12.5,10.5,9.0,11.0,12.0, 10.5,9.0,9.5,11.0,10.0,9.5,11.5,10.5,9.5,9.0,10.5],
[8.4,11.9,15.3,18.4,20.8,13.2,13.3,13.2,13.3,8.8,8.0,6.3,6.6, 3.8,2.7,3.0,2.8,2.5,2.6,3.5,3.5,4.0,4.0,5.0,4.5, 5.0,5.5,6.5,6.5,5.5,6.5,7.5,8.0,7.0,8.5,8.5,7.0, 6.0,5.5,6.5,7.0,6.0,5.5,6.0,7.0,6.5,5.5,6.0,5.5, 5.5,5.0,6.5,6.0,5.5,6.0,6.5,6.0,5.5,6.0,7.0]
];

// Bedekkingsgraad
const ccOper = [100,100,100,100,22,60,45,26,42,80,43,33,20,0,83,100,24,100,100,100,14,95,48,100,90,100,58,80,100,100,100,66,29,95,100,70,41,100,100,100];
const ccControl = [100,100,100,100,40,59,40,10,43,43,49,65,97,50,1,1,0.5,64,100,95,91,76,83,34,51,72,87,96,98,97,100,100,100,87,100,97,94,87,100,98,100,95,99,64,89,67,54,64,70,52,18,100,100,100,96,99,99,100,100,90];
const ccLow = [100,100,100,97,17,47.5,39.5,14,22,29.5,37,39,9,1,0,0,0,0,38,48.5,51.5,63,33,30,60.5,80.5,89,91,91,86,94,67,46,77,81,63,64.5,75,81,39.5,49,51.5,63,64,59,62,61.5,61,34.6,48.7,48.7,65,54.5,30,62,62,44,41,11,16.4];
const ccHigh = [100,100,100,100,27,64,55,32,43,58,71,66,62,47,42,20,31,93,100,100,100,100,99,100,100,100,100,100,100,100,100,100,100,100,100,100,100,100,100,100,100,100,100,100,100,100,100,100,100,100,100,100,100,100,100,100,100,100,100,100];
const ccMedian = [null,null,null,99,21,58,47,24,35,41.5,47,55,34.5,13.5,7,2,1,30,97,97,92,91.5,78.5,90,98.5,99.5,99,99,99,99,99,98,97,97,99,81,92,97,96,88,88,87,88,94,92,92,91,86,70,88,89,93,93,82,99,98,91,90,96,84];

// ---------------- CHART ----------------
const FONT = "'Liberation Sans', Arial, sans-serif";
const N = 60;
const cats60 = Array.from({length: N}, (_, i) => String(i));
const cats119 = Array.from({length: 2 * N - 1}, (_, i) => String(i));
const layout = [
  {top: 20, h: 261, ly: 13}, {top: 320, h: 261, ly: 313}, {top: 620, h: 260, ly: 613},
  {top: 921, h: 259, ly: 913}, {top: 1221, h: 259, ly: 1213}, {top: 1520, h: 260, ly: 1513}
];
const panels = [
  {min: -20, max: 15, step: 5, oper: t2mOper, ctrl: t2mControl, avg: t2mAverage, mem: t2mMembers, zero: true},
  {min: -30, max: 15, step: 5, oper: tdOper, ctrl: tdControl, avg: tdAverage, mem: tdMembers},
  {min: 0, max: 12, step: 2, oper: prOper, ctrl: prControl, avg: prAverage, mem: prMembers},
  {min: 0, max: 14, step: 2, oper: wOper, ctrl: wControl, avg: wAverage, mem: wMembers},
  {min: 0, max: 28, step: 2, oper: gOper, ctrl: gControl, avg: gAverage, mem: gMembers, gust: true}
];

const grids = [], xAxes = [], yAxes = [], series = [], graphics = [];
const gridLine = {color: '#c4c4c4', type: [3, 2], width: 1};
const dayLine = {color: '#4a4a4a', width: 1};

function yAxisFor(p, min, max, step) {
  return {type: 'value', gridIndex: p, min: min, max: max, interval: step,
    axisLine: {show: true, lineStyle: {color: '#000'}},
    axisTick: {show: true, length: 4, lineStyle: {color: '#000'}},
    axisLabel: {color: '#000', fontSize: 11, fontFamily: FONT, margin: 6},
    splitLine: {show: true, lineStyle: gridLine}};
}

layout.forEach((L) => {
  grids.push({left: 28, right: 1, top: L.top, height: L.h, show: true, borderColor: '#000', borderWidth: 1, backgroundColor: '#fff'});
});

panels.forEach((P, p) => {
  xAxes.push({type: 'category', gridIndex: p, data: cats60, boundaryGap: false,
    axisLine: {show: true, lineStyle: {color: '#000'}},
    axisTick: {show: true, interval: 0, length: 3, lineStyle: {color: '#000'}},
    axisLabel: {interval: (i) => i % 4 === 3, formatter: (v) => { const i = +v; return i % 4 === 3 ? (dayLabels[(i - 3) / 4] || '') : ''; },
      color: '#000', fontSize: 11, fontFamily: FONT, margin: 5},
    splitLine: {show: true, interval: 0, lineStyle: gridLine}});
  xAxes.push({type: 'category', gridIndex: p, data: cats60, boundaryGap: false,
    axisLine: {show: false}, axisTick: {show: false}, axisLabel: {show: false},
    splitLine: {show: true, interval: (i) => i % 4 === 1, lineStyle: dayLine}});
  yAxes.push(yAxisFor(p, P.min, P.max, P.step));
  const xi = 2 * p;
  P.mem.forEach((m, k) => {
    const s = {type: 'line', xAxisIndex: xi, yAxisIndex: p, data: m, symbol: 'none', silent: true, z: 2,
      lineStyle: {color: '#3f9f22', width: 1.2, opacity: 0.5}};
    if (k === P.mem.length - 1 && P.zero) {
      s.markLine = {silent: true, symbol: 'none', label: {show: false}, data: [{yAxis: 0}], lineStyle: {color: '#000', width: 2, type: 'solid', opacity: 1}};
    }
    series.push(s);
  });
  const avgS = {type: 'line', xAxisIndex: xi, yAxisIndex: p, data: P.avg, symbol: 'none', z: 3,
    lineStyle: {color: '#7a0000', width: 3, type: [3, 3], cap: 'butt'}};
  if (P.gust) {
    avgS.markLine = {silent: true, symbol: 'none', label: {show: false}, data: [
      {yAxis: gustLines[0], lineStyle: {color: '#ff3cff', width: 2, type: [6, 6]}},
      {yAxis: gustLines[1], lineStyle: {color: '#1d5454', width: 2, type: [2, 3]}}]};
  }
  series.push(avgS);
  series.push({type: 'line', xAxisIndex: xi, yAxisIndex: p, data: P.ctrl, symbol: 'none', z: 4,
    lineStyle: {color: '#3434d6', width: 3.5}});
  series.push({type: 'line', xAxisIndex: xi, yAxisIndex: p, data: P.oper, symbol: 'none', z: 5,
    lineStyle: {color: '#da3434', width: 3.5}});
});

(function () {
  const p = 5;
  xAxes.push({type: 'category', gridIndex: p, data: cats119, boundaryGap: false,
    axisLine: {show: true, lineStyle: {color: '#000'}},
    axisTick: {show: true, interval: (i) => i % 2 === 1, length: 3, lineStyle: {color: '#000'}},
    axisLabel: {interval: (i) => i % 8 === 5, formatter: (v) => { const h = +v; return h % 8 === 5 ? (dayLabels[(h - 5) / 8] || '') : ''; },
      color: '#000', fontSize: 11, fontFamily: FONT, margin: 5},
    splitLine: {show: true, interval: (i) => i % 2 === 1, lineStyle: gridLine}});
  xAxes.push({type: 'category', gridIndex: p, data: cats119, boundaryGap: false,
    axisLine: {show: false}, axisTick: {show: false}, axisLabel: {show: false},
    splitLine: {show: true, interval: (i) => i % 8 === 1, lineStyle: dayLine}});
  yAxes.push(yAxisFor(p, 0, 100, 10));
  const M = 2 * N - 1;
  const base = new Array(M).fill('-'), span = new Array(M).fill('-'), med = new Array(M).fill('-');
  const op = new Array(M).fill(null), ct = new Array(M).fill(null);
  for (let i = 0; i < N; i++) {
    const h = 2 * i;
    if (ccHigh[i] - ccLow[i] > 0) { base[h] = ccLow[i]; span[h] = ccHigh[i] - ccLow[i]; }
    if (ccMedian[i] != null) med[h] = ccMedian[i];
    if (i < ccOper.length) op[h] = ccOper[i];
    ct[h] = ccControl[i];
  }
  const xi = 10;
  series.push({type: 'bar', xAxisIndex: xi, yAxisIndex: p, stack: 'cc', data: base, barWidth: 9, silent: true, z: 2,
    itemStyle: {color: 'rgba(0,0,0,0)'}});
  series.push({type: 'bar', xAxisIndex: xi, yAxisIndex: p, stack: 'cc', data: span, barWidth: 9, silent: true, z: 2,
    itemStyle: {color: '#fbfbae', borderColor: '#c9c99c', borderWidth: 0.8}});
  series.push({type: 'scatter', xAxisIndex: xi, yAxisIndex: p, data: med, symbol: 'rect', symbolSize: [9, 1.3], silent: true, z: 3,
    itemStyle: {color: '#000'}});
  series.push({type: 'line', xAxisIndex: xi, yAxisIndex: p, data: ct, connectNulls: true, symbol: 'none', z: 4,
    lineStyle: {color: '#3434d6', width: 2.5}});
  series.push({type: 'line', xAxisIndex: xi, yAxisIndex: p, data: op, connectNulls: true, symbol: 'none', z: 5,
    lineStyle: {color: '#da3434', width: 2.5}});
})();

function txt(x, y, text, opts) {
  const o = Object.assign({fill: '#000', font: '11px ' + FONT, align: 'left'}, opts || {});
  return {type: 'text', x: x, y: y, z: 100, silent: true,
    style: {text: text, fill: o.fill, font: o.font, align: o.align, verticalAlign: 'middle', textAlign: o.align, textVerticalAlign: 'middle'}};
}
layout.forEach((L, p) => {
  const ly = L.ly;
  graphics.push(txt(633, ly - 9, headerLine1, {fill: '#9a9a9a', font: '10px ' + FONT, align: 'right'}));
  graphics.push(txt(633, ly + 1, headerLine2, {fill: '#9a9a9a', font: '10px ' + FONT, align: 'right'}));
  graphics.push(txt(415, ly, titles[p], {font: 'bold 13px ' + FONT, align: 'center'}));
  if (p < 5) {
    const items = [
      {x1: 28, x2: 44, tx: 47, st: {stroke: '#da3434', lineWidth: 4}},
      {x1: 96, x2: 112, tx: 115, st: {stroke: '#3434d6', lineWidth: 4}},
      {x1: 175, x2: 190, tx: 193, st: {stroke: '#7cc56a', lineWidth: 1}},
      {x1: 262, x2: 277, tx: 281, st: {stroke: '#7a0000', lineWidth: 3, lineDash: [3, 2]}}
    ];
    items.forEach((it, k) => {
      graphics.push({type: 'line', z: 100, silent: true, shape: {x1: it.x1, y1: ly, x2: it.x2, y2: ly}, style: it.st});
      graphics.push(txt(it.tx, ly, legendNames[k]));
    });
  } else {
    const items = [
      {x: 28, tx: 39, fill: '#da3434'}, {x: 86, tx: 97, fill: '#3434d6'},
      {x: 156, tx: 167, fill: '#fbfbae'}, {x: 213, tx: 224, fill: '#000'}
    ];
    items.forEach((it, k) => {
      graphics.push({type: 'rect', z: 100, silent: true, shape: {x: it.x + 0.5, y: ly - 3.5, width: 7, height: 7},
        style: {fill: it.fill, stroke: '#333', lineWidth: 1}});
      graphics.push(txt(it.tx, ly, cloudLegendNames[k]));
    });
  }
});

const chart = echarts.init(document.getElementById('c'), null, {renderer: 'svg', width: 635, height: 1800});
chart.setOption({
  animation: false,
  backgroundColor: '#fff',
  textStyle: {fontFamily: FONT},
  grid: grids, xAxis: xAxes, yAxis: yAxes, series: series, graphic: graphics
});
</script>
</body></html>
